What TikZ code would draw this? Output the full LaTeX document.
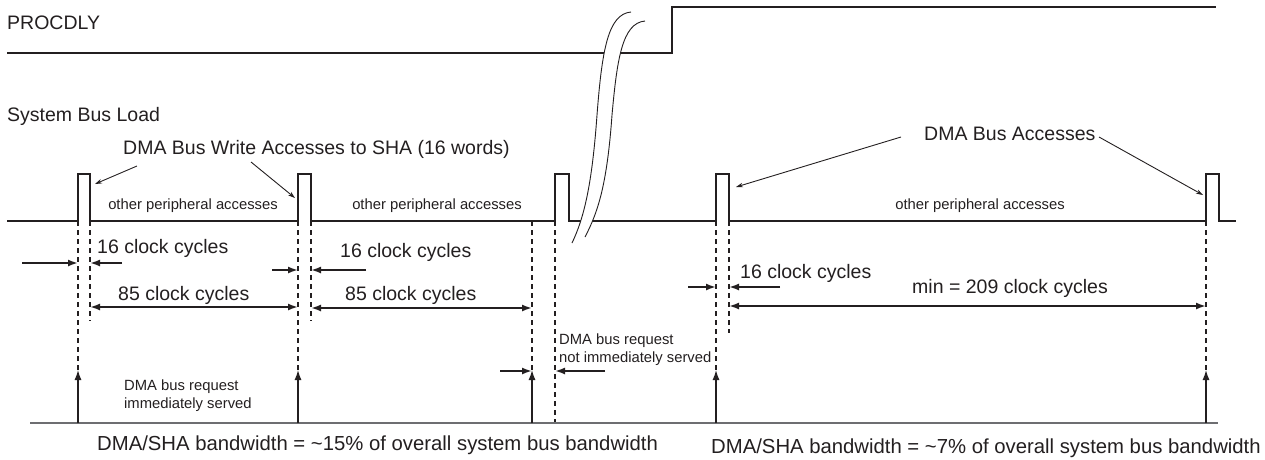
\documentclass[tikz,border=0pt]{standalone}
\usepackage{fontspec}
\setmainfont{Liberation Sans}
\usetikzlibrary{arrows.meta}
\definecolor{ink}{HTML}{231F20}
\definecolor{rulegray}{HTML}{6D6E71}

\begin{document}
\begin{tikzpicture}[x=1pt,y=-1pt,
    wave/.style={draw=ink,line width=2.4pt},
    guide/.style={draw=ink,line width=1.1pt,dash pattern=on 5pt off 4pt},
    dim/.style={draw=ink,line width=1.8pt,-{Latex[length=10pt,width=7pt]}},
    dimb/.style={draw=ink,line width=1.8pt,{Latex[length=10pt,width=7pt]}-{Latex[length=10pt,width=7pt]}},
    req/.style={draw=ink,line width=1.3pt,-{Latex[length=10pt,width=7pt]}},
    callout/.style={draw=ink,line width=0.9pt,-{Stealth[length=7pt,width=4.5pt]}},
    brk/.style={draw=ink,line width=0.9pt},
    big/.style={text=ink,inner sep=0pt,font=\fontsize{19.5}{22}\selectfont},
    bwlbl/.style={text=ink,inner sep=0pt,font=\fontsize{20.3}{23}\selectfont},
    small/.style={text=ink,inner sep=0pt,align=left,font=\fontsize{14.8}{17.5}\selectfont}
  ]
    \useasboundingbox (0,0) rectangle (1265,459);

    \coordinate (g1r) at (78,221);   \coordinate (g1f) at (90,221);
    \coordinate (g2r) at (298,221);  \coordinate (g2f) at (311,221);
    \coordinate (g3q) at (532,221);  \coordinate (g3r) at (555,221);
    \coordinate (g3f) at (569,221);
    \coordinate (g4r) at (716,221);  \coordinate (g4f) at (729,221);
    \coordinate (g5r) at (1206,221); \coordinate (g5f) at (1219,221);

    \draw[wave] (7,53) -- (672,53) -- (672,7) -- (1216,7);
    \draw[wave] (7,221) -- (g1r) -- (78,174) -- (90,174) -- (g1f)
      -- (g2r) -- (298,174) -- (311,174) -- (g2f)
      -- (g3r) -- (555,174) -- (569,174) -- (g3f) -- (600,221)
      -- (g4r) -- (716,174) -- (729,174) -- (g4f)
      -- (g5r) -- (1206,174) -- (1219,174) -- (g5f) -- (1236,221);

    \fill[white] (631,12) .. controls (608,14) and (602,50) .. (597,115)
      .. controls (592,185) and (584,218) .. (572,243) -- (585,237)
      .. controls (598,212) and (607,185) .. (612,115)
      .. controls (617,60) and (622,23) .. (645,21) -- cycle;
    \draw[brk] (631,12) .. controls (608,14) and (602,50) .. (597,115)
      .. controls (592,185) and (584,218) .. (572,243);
    \draw[brk] (645,21) .. controls (622,23) and (617,60) .. (612,115)
      .. controls (607,185) and (598,212) .. (585,237);

    \draw[guide] (g1r) -- (g1r |- 0,370);
    \draw[guide] (g2r) -- (g2r |- 0,370);
    \draw[guide] (g3q) -- (g3q |- 0,370);
    \draw[guide] (g4r) -- (g4r |- 0,370);
    \draw[guide] (g5r) -- (g5r |- 0,370);
    \draw[guide] (g1f) -- (g1f |- 0,321);
    \draw[guide] (g2f) -- (g2f |- 0,321);
    \draw[guide] (g4f) -- (g4f |- 0,333);
    \draw[guide] (g3r) -- (g3r |- 0,423);

    \draw[draw=rulegray,line width=2pt] (30,423) -- (1218,423);
    \draw[req] (g1r |- 0,423) -- (g1r |- 0,370);
    \draw[req] (g2r |- 0,423) -- (g2r |- 0,370);
    \draw[req] (g3q |- 0,423) -- (g3q |- 0,370);
    \draw[req] (g4r |- 0,423) -- (g4r |- 0,370);
    \draw[req] (g5r |- 0,423) -- (g5r |- 0,370);

    \draw[dim] (22,263) -- (g1r |- 0,263);
    \draw[dim] (122,263) -- (g1f |- 0,263);
    \draw[dimb] (g1f |- 0,307) -- (g2r |- 0,307);
    \draw[dim] (272,270) -- (g2r |- 0,270);
    \draw[dim] (366,270) -- (g2f |- 0,270);
    \draw[dimb] (g2f |- 0,308) -- (g3q |- 0,308);
    \draw[dim] (500,371) -- (g3q |- 0,371);
    \draw[dim] (605,371) -- (g3r |- 0,371);
    \draw[dim] (688,287) -- (g4r |- 0,287);
    \draw[dim] (780,287) -- (g4f |- 0,287);
    \draw[dimb] (g4f |- 0,306) -- (g5r |- 0,306);

    \node[big,anchor=base west] (procdly) at (7,29) {PROCDLY};
    \node[big,anchor=base west] (busload) at (7,121) {System Bus Load};
    \node[big,anchor=base west] (shalbl) at (123,154) {DMA Bus Write Accesses to SHA (16 words)};
    \node[big,anchor=base west] (dmalbl) at (924,140) {DMA Bus Accesses};

    \coordinate (sha1) at (137,166); \coordinate (sha1t) at (95,184);
    \coordinate (sha2) at (251,162); \coordinate (sha2t) at (295,198);
    \coordinate (dma1) at (901,137); \coordinate (dma1t) at (736,187);
    \coordinate (dma2) at (1099,137); \coordinate (dma2t) at (1203,195);
    \draw[callout] (sha1) -- (sha1t);
    \draw[callout] (sha2) -- (sha2t);
    \draw[callout] (dma1) -- (dma1t);
    \draw[callout] (dma2) -- (dma2t);

    \node[small,anchor=base] (oth1) at (193,209) {other peripheral accesses};
    \node[small,anchor=base] (oth2) at (437,209) {other peripheral accesses};
    \node[small,anchor=base] (oth3) at (980,209) {other peripheral accesses};

    \node[big,anchor=base west] (cyc16a) at (97,253) {16 clock cycles};
    \node[big,anchor=base west] (cyc85a) at (118,300) {85 clock cycles};
    \node[big,anchor=base west] (cyc16b) at (340,257) {16 clock cycles};
    \node[big,anchor=base west] (cyc85b) at (345,300) {85 clock cycles};
    \node[big,anchor=base west] (cyc16c) at (740,278) {16 clock cycles};
    \node[big,anchor=base west] (cycmin) at (912,293) {min = 209 clock cycles};

    \node[small,anchor=north west] (served) at (124,380) {DMA bus request\\immediately served};
    \node[small,anchor=north west] (notserved) at (559,334) {DMA bus request\\not immediately served};

    \node[bwlbl,anchor=base west] (bw15) at (97,450) {DMA/SHA bandwidth = \textasciitilde15\% of overall system bus bandwidth};
    \node[bwlbl,anchor=base west] (bw7) at (711,453) {DMA/SHA bandwidth = \textasciitilde7\% of overall system bus bandwidth};
  \end{tikzpicture}
\end{document}
